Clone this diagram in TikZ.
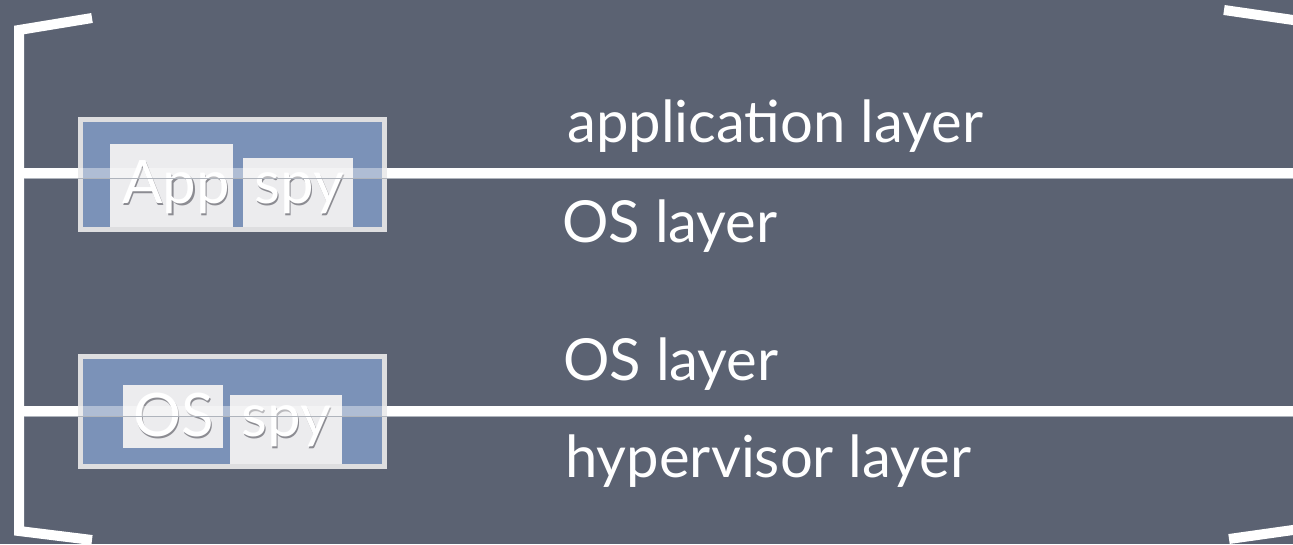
\documentclass[tikz,border=0pt]{standalone}
\usepackage{fontspec}
\setmainfont{Lato}
\definecolor{bg}{RGB}{91,98,114}
\definecolor{boxblue}{RGB}{123,146,184}
\definecolor{boxrim}{RGB}{222,222,224}
\definecolor{tagfill}{RGB}{236,236,238}
\definecolor{lineshadow}{RGB}{175,180,188}
\definecolor{tagshadow}{RGB}{140,140,146}
\newcommand{\glowtext}[1]{\makebox[0pt][l]{\raisebox{-2pt}{\hspace{1.5pt}\textcolor{tagshadow}{#1}}}#1}
\begin{document}
\begin{tikzpicture}[x=1pt,y=-1pt,
  chalk/.style={draw=white, line width=10pt, line join=miter},
  layerline/.style={draw=white, line width=10pt},
  layershadow/.style={draw=lineshadow, line width=1.5pt},
  spybox/.style={draw=boxrim, line width=5pt, fill=boxblue},
  tagbox/.style={fill=tagfill},
  layerlabel/.style={text=white, inner sep=0pt, anchor=base west, font=\fontsize{58}{58}\selectfont},
  tagtext/.style={text=white, inner sep=0pt, anchor=base west, font=\fontsize{60}{60}\selectfont}]
\useasboundingbox (0,0) rectangle (1293,544);
\fill[bg] (0,0) rectangle (1293,544);

% brackets
\coordinate (bl1) at (92,18);
\coordinate (bl2) at (19,30);
\coordinate (bl3) at (19,531);
\coordinate (bl4) at (92,540);
\draw[chalk] (bl1) -- (bl2) -- (bl3) -- (bl4);
\coordinate (br1) at (1224,10);
\coordinate (br2) at (1300,21);
\draw[chalk] (br1) -- (br2);
\coordinate (br3) at (1229,539);
\coordinate (br4) at (1300,529);
\draw[chalk] (br3) -- (br4);

% App spy box
\draw[spybox] (80.5,119.5) rectangle (384.5,229.5);
\fill[tagbox] (110,144) rectangle (233,227);
\fill[tagbox] (243,158) rectangle (353,227);
\node[tagtext] (app) at (122,203) {\glowtext{App}};
\node[tagtext] (spy1) at (254,203) {\glowtext{spy}};

% OS spy box
\draw[spybox] (80.5,356.5) rectangle (384.5,466.5);
\fill[tagbox] (123,385) rectangle (223,448);
\fill[tagbox] (230,395) rectangle (342,464);
\node[tagtext] (os) at (133,436) {\glowtext{OS}};
\node[tagtext] (spy2) at (241,436) {\glowtext{spy}};

% layer lines
\coordinate (a0) at (24,172.5);
\coordinate (a1) at (78,172.5);
\coordinate (a2) at (387,172.5);
\coordinate (a3) at (1293,172.5);
\draw[layershadow] ([yshift=-6pt]a0) -- ([yshift=-6pt]a3);
\draw[layerline] (a0) -- (a1);
\draw[layerline, opacity=0.4] (a1) -- (a2);
\draw[layerline] (a2) -- (a3);

\coordinate (b0) at (24,410.5);
\coordinate (b1) at (78,410.5);
\coordinate (b2) at (387,410.5);
\coordinate (b3) at (1293,410.5);
\draw[layershadow] ([yshift=-6pt]b0) -- ([yshift=-6pt]b3);
\draw[layerline] (b0) -- (b1);
\draw[layerline, opacity=0.4] (b1) -- (b2);
\draw[layerline] (b2) -- (b3);

% labels
\node[layerlabel] (l1) at (567,142) {application layer};
\node[layerlabel] (l2) at (562,242) {OS layer};
\node[layerlabel] (l3) at (563,380) {OS layer};
\node[layerlabel] (l4) at (565,477) {hypervisor layer};
\end{tikzpicture}
\end{document}
